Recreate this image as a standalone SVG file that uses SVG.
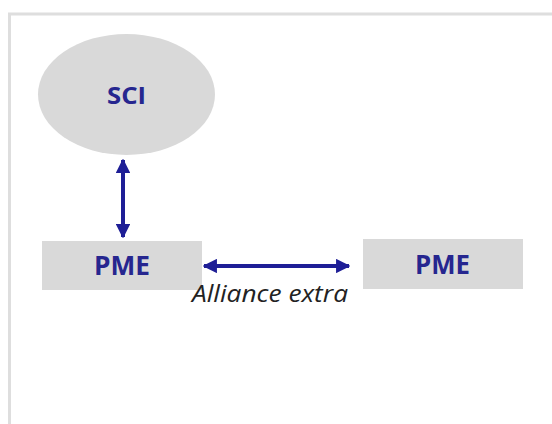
<svg xmlns="http://www.w3.org/2000/svg" width="552" height="424" viewBox="0 0 552 424">
<style>
.node{fill:#d9d9d9}
.lbl{font-family:"Open Sans","Liberation Sans",sans-serif;font-weight:bold;fill:#26268f;text-anchor:middle}
.conn{stroke:#1e1e96;stroke-width:4;fill:none}
.note{font-family:"Open Sans","Liberation Sans",sans-serif;font-style:italic;font-size:23px;fill:#222}
</style>
<defs>
<marker id="ah" viewBox="0 0 10 10" refX="9" refY="5" markerWidth="3.6" markerHeight="3.6" orient="auto-start-reverse" markerUnits="strokeWidth">
<path d="M0,0 L10,5 L0,10 z" fill="#1e1e96"/>
</marker>
</defs>
<rect x="0" y="0" width="552" height="424" fill="#fff"/>
<rect x="9.5" y="14" width="560" height="430" fill="#fff" stroke="#dedede" stroke-width="3"/>
<g id="sci">
<ellipse class="node" cx="126.5" cy="94.5" rx="88.5" ry="60.5"/>
<text class="lbl" x="126.5" y="104" font-size="24" textLength="39" lengthAdjust="spacingAndGlyphs">SCI</text>
</g>
<g id="pme1">
<rect class="node" x="42" y="241" width="160" height="49"/>
<text class="lbl" x="122" y="275" font-size="26" textLength="56" lengthAdjust="spacingAndGlyphs">PME</text>
</g>
<g id="pme2">
<rect class="node" x="363" y="239" width="160" height="50"/>
<text class="lbl" x="442.5" y="274" font-size="26" textLength="55" lengthAdjust="spacingAndGlyphs">PME</text>
</g>
<g id="connectors">
<line class="conn" x1="123" y1="160" x2="123" y2="237" marker-start="url(#ah)" marker-end="url(#ah)"/>
<line class="conn" x1="204" y1="266" x2="349" y2="266" marker-start="url(#ah)" marker-end="url(#ah)"/>
</g>
<text class="note" x="192" y="302" textLength="156" lengthAdjust="spacingAndGlyphs">Alliance extra</text>
</svg>
